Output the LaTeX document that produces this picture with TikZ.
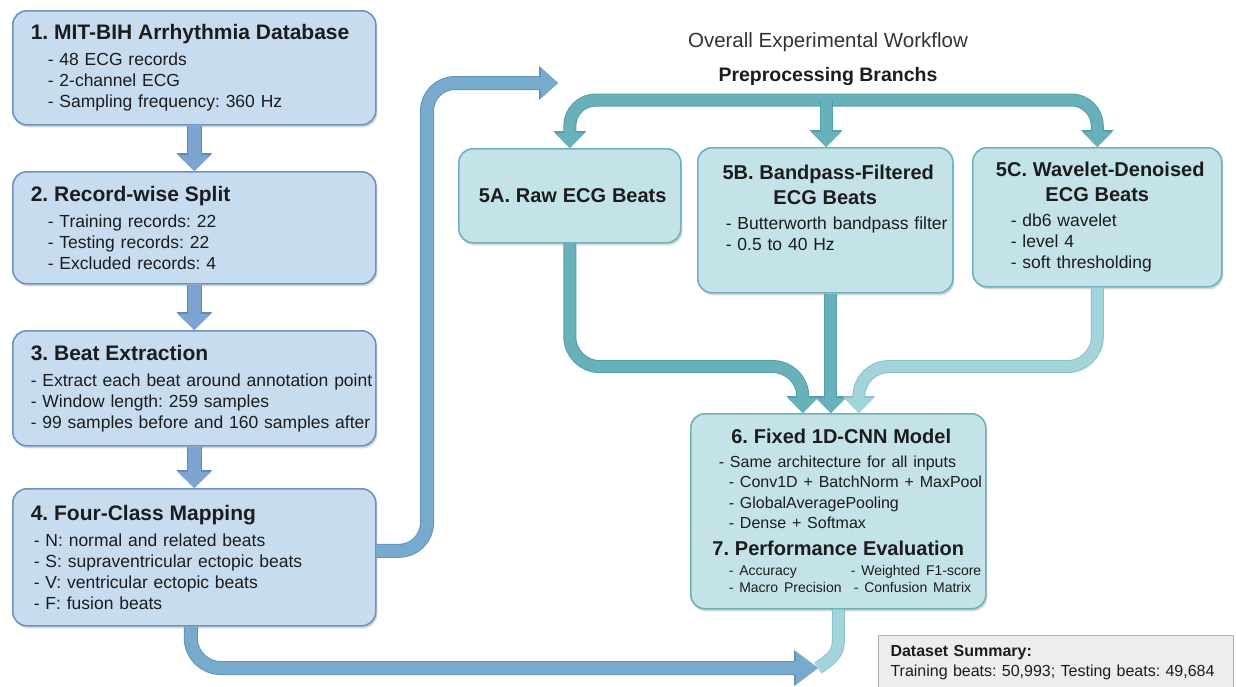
\documentclass[tikz,border=0pt]{standalone}
\usepackage{fontspec}
\setmainfont{Liberation Sans}
\usepackage{tikz}
\usetikzlibrary{arrows.meta, shadows, positioning}
\frenchspacing

\definecolor{stagefill}{HTML}{C8DCF0}
\definecolor{stageedge}{HTML}{6B94C0}
\definecolor{branchfill}{HTML}{C3E3E8}
\definecolor{branchedge}{HTML}{6FB1BB}
\definecolor{bluearrow}{HTML}{7BA4D0}
\definecolor{bluearrowedge}{HTML}{5F89B9}
\definecolor{tealarrow}{HTML}{68B0BA}
\definecolor{tealarrowedge}{HTML}{559FAA}
\definecolor{lightteal}{HTML}{A3D4DA}
\definecolor{lighttealedge}{HTML}{86C2CA}
\definecolor{mixarrow}{HTML}{78AACD}
\definecolor{mixarrowedge}{HTML}{6192BC}
\definecolor{inkcol}{HTML}{1C1C1C}

\newcommand{\stagefont}[1][21]{\fontsize{#1}{25}\selectfont\bfseries}
\newcommand{\bodyfont}{\fontsize{17.5}{21}\selectfont}

\tikzstyle{stage} = [rectangle, rounded corners=14pt, draw=stageedge, line width=1.6pt, fill=stagefill, anchor=north west, inner xsep=0pt, inner ysep=0pt, text width=363pt, align=left, font=\bodyfont, text=inkcol, drop shadow={shadow xshift=1.5pt, shadow yshift=-2.5pt, opacity=0.3}]
\tikzstyle{branch} = [stage, draw=branchedge, fill=branchfill]
\tikzstyle{summarybox} = [rectangle, draw=black!30, fill=black!7, line width=1pt, anchor=north west, text width=331pt, inner xsep=12pt, inner ysep=10pt, align=left, font=\fontsize{16}{20}\selectfont, text=inkcol]
\tikzstyle{downflow} = [line width=13pt, draw=bluearrow, -{Triangle[width=33pt,length=16pt,line width=0pt]}, preaction={draw=bluearrowedge, line width=15pt, -{Triangle[width=36pt,length=18pt,line width=0pt]}}]
\tikzstyle{mixflow} = [line width=12pt, draw=mixarrow, -{Triangle[width=31pt,length=17pt,line width=0pt]}, preaction={draw=mixarrowedge, line width=14pt, -{Triangle[width=34pt,length=19pt,line width=0pt]}}]
\tikzstyle{tealflow} = [line width=11pt, draw=tealarrow, -{Triangle[width=30pt,length=15pt,line width=0pt]}, preaction={draw=tealarrowedge, line width=13pt, -{Triangle[width=33pt,length=17pt,line width=0pt]}}]
\tikzstyle{lightflow} = [line width=11pt, draw=lightteal, -{Triangle[width=30pt,length=15pt,line width=0pt]}, preaction={draw=lighttealedge, line width=13pt, -{Triangle[width=33pt,length=17pt,line width=0pt]}}]
\tikzstyle{returnflow} = [line width=12pt, draw=mixarrow, -{Triangle[width=33pt,length=22pt,line width=0pt]}, preaction={draw=mixarrowedge, line width=14pt, -{Triangle[width=36pt,length=24pt,line width=0pt]}}]
\tikzstyle{tealband} = [line width=11pt, draw=lightteal, preaction={draw=lighttealedge, line width=13pt}]
\tikzset{textindent/.style={execute at begin node={\leftskip=#1}}}

\begin{document}
\begin{tikzpicture}[x=1pt, y=-1pt]
    \path[use as bounding box, fill=white] (0,0) rectangle (1236,686);

    % left column
    \node[stage, minimum height=114pt, textindent=18pt] (box-1) at (12,10) {{\stagefont 1. MIT-BIH Arrhythmia Database}\\[5pt]
        \hspace*{17pt}- 48 ECG records\\
        \hspace*{17pt}- 2-channel ECG\\
        \hspace*{17pt}- Sampling frequency: 360 Hz};
    \node[stage, minimum height=112pt, textindent=18pt] (box-2) at (12,171) {{\stagefont 2. Record-wise Split}\\[5pt]
        \hspace*{17pt}- Training records: 22\\
        \hspace*{17pt}- Testing records: 22\\
        \hspace*{17pt}- Excluded records: 4};
    \node[stage, minimum height=115pt, textindent=18pt] (box-3) at (12,330) {{\stagefont 3. Beat Extraction}\\[5pt]
        - Extract each beat around annotation point\\
        - Window length: 259 samples\\
        - 99 samples before and 160 samples after};
    \node[stage, minimum height=137pt, textindent=18pt] (box-4) at (12,488) {{\stagefont 4. Four-Class Mapping}\\[5pt]
        \hspace*{3pt}- N: normal and related beats\\
        \hspace*{3pt}- S: supraventricular ectopic beats\\
        \hspace*{3pt}- V: ventricular ectopic beats\\
        \hspace*{3pt}- F: fusion beats};

    % headings
    \node[font=\fontsize{20.5}{24}\selectfont, text=black!80] (title) at (828,42) {Overall Experimental Workflow};
    \node[below=9pt of title, font=\fontsize{19.5}{24}\selectfont\bfseries, text=inkcol] (subtitle) {Preprocessing Branchs};

    % preprocessing branches
    \node[branch, minimum height=94pt, text width=222pt] (branch-a) at (458,148) {{\centering\stagefont[20] 5A. Raw ECG Beats\par}};
    \node[branch, minimum height=145pt, text width=255pt, textindent=28pt] (branch-b) at (697,147) {{\centering\stagefont[20] 5B. Bandpass-Filtered\\ ECG Beats\par}\vspace{4pt}
        - Butterworth bandpass filter\\
        - 0.5 to 40 Hz\par\vspace*{25pt}};
    \node[branch, minimum height=139pt, text width=249pt, textindent=38pt] (branch-c) at (972,147) {{\centering\stagefont[20] 5C. Wavelet-Denoised\\ ECG Beats\par}\vspace{4pt}
        - db6 wavelet\\
        - level 4\\
        - soft thresholding};

    % model and evaluation
    \node[branch, minimum height=195pt, text width=295pt, textindent=28pt] (model) at (690,413) {{\centering\stagefont[20] 6. Fixed 1D-CNN Model\par}\vspace{3pt}
        {\fontsize{16}{20.5}\selectfont\mbox{- Same architecture for all inputs}\\
        \hspace*{10pt}\mbox{- Conv1D + BatchNorm + MaxPool}\\
        \hspace*{10pt}\mbox{- GlobalAveragePooling}\\
        \hspace*{10pt}\mbox{- Dense + Softmax}\par}\vspace{2pt}
        {\centering\stagefont[20] 7. Performance Evaluation\par}\vspace{3pt}
        {\fontsize{14}{17}\selectfont\hspace*{10pt}\makebox[122pt][l]{- Accuracy}- Weighted F1-score\\
        \hspace*{10pt}\makebox[125pt][l]{- Macro Precision}- Confusion Matrix\par}};

    \node[summarybox] (summary) at (878,635) {\textbf{Dataset Summary:}\\ Training beats: 50,993; Testing beats: 49,684};

    % connectors
    \draw[downflow] (box-1.south) -- (box-2.north);
    \draw[downflow] (box-2.south) -- (box-3.north);
    \draw[downflow] (box-3.south) -- (box-4.north);

    \coordinate (rise) at (427,83);
    \coordinate (feed) at (558,83);
    \draw[mixflow, rounded corners=28pt] ([yshift=6.5pt]box-4.east) -| (rise) -- (feed);

    \coordinate (fork) at (826,100);
    \draw[tealflow, rounded corners=26pt] (fork) -| (branch-a.north);
    \draw[tealflow, rounded corners=26pt] (fork) -| (branch-c.north);
    \draw[tealflow] (fork) -- (fork |- branch-b.north);

    \draw[tealflow, rounded corners=30pt] (branch-a.south) -- ++(0,123) -| ([xshift=-35.5pt]model.north);
    \draw[tealflow] ([xshift=5.5pt]branch-b.south) -- ([xshift=-7.5pt]model.north);
    \draw[lightflow, rounded corners=30pt] (branch-c.south) -- ++(0,79) -| ([xshift=20.5pt]model.north);

    \coordinate (retin) at (818,668);
    \draw[returnflow, rounded corners=30pt] ([xshift=-3.5pt]box-4.south) |- (retin);
    \draw[tealband] (model.south) -- ++(0,32) to[out=-90, in=35] (retin);
\end{tikzpicture}
\end{document}
